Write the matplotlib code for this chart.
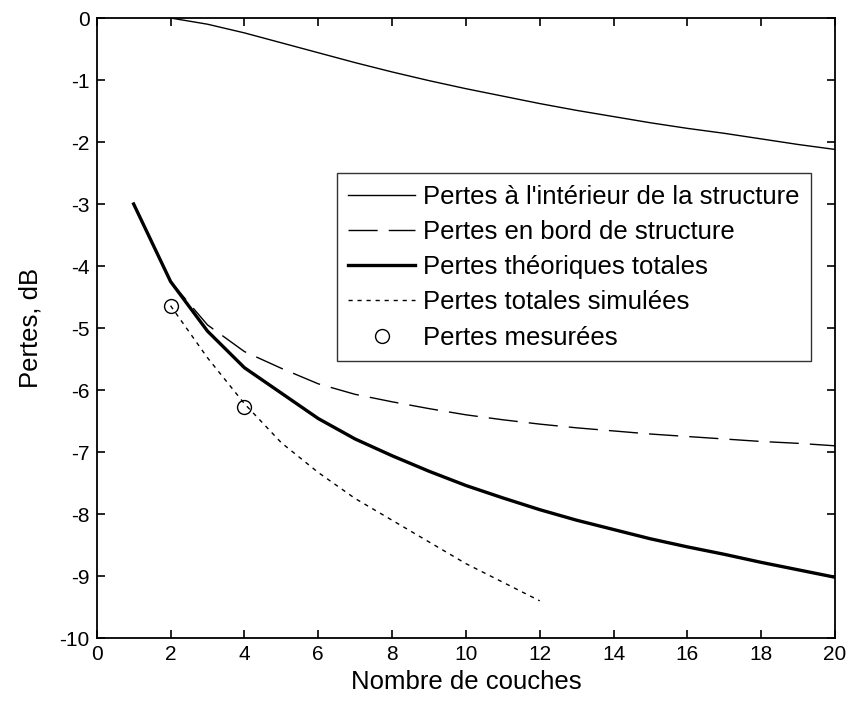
import matplotlib
matplotlib.use("Agg")
import matplotlib.pyplot as plt

plt.rcParams['font.family'] = ['Liberation Sans', 'DejaVu Sans']
plt.rcParams['axes.unicode_minus'] = False

# nombre de couches
x_int = [2, 3, 4, 5, 6, 7, 8, 9, 10, 11, 12, 13, 14, 15, 16, 17, 18, 19, 20]
pertes_int = [0.0, -0.10, -0.24, -0.40, -0.56, -0.72, -0.87, -1.01, -1.14, -1.26,
              -1.38, -1.49, -1.59, -1.69, -1.78, -1.86, -1.95, -2.04, -2.12]

x_all = [1, 2, 3, 4, 5, 6, 7, 8, 9, 10, 11, 12, 13, 14, 15, 16, 17, 18, 19, 20]
pertes_bord = [-3.0, -4.25, -4.95, -5.38, -5.65, -5.90, -6.07, -6.19, -6.30, -6.40,
               -6.48, -6.55, -6.61, -6.66, -6.71, -6.75, -6.79, -6.83, -6.86, -6.90]
pertes_tot = [-3.0, -4.25, -5.05, -5.64, -6.05, -6.46, -6.79, -7.06, -7.31, -7.54,
              -7.74, -7.93, -8.10, -8.25, -8.40, -8.53, -8.65, -8.78, -8.90, -9.02]

x_sim = [2, 3, 4, 5, 6, 7, 8, 9, 10, 11, 12]
pertes_sim = [-4.64, -5.48, -6.22, -6.85, -7.33, -7.75, -8.10, -8.45, -8.80, -9.10, -9.40]

x_mes = [2, 4]
pertes_mes = [-4.64, -6.27]

fig = plt.figure(figsize=(8.5, 7.06), dpi=100)
ax = fig.add_axes([0.1138, 0.0963, 0.8686, 0.8782])

ax.plot(x_int, pertes_int, color='black', lw=1.0,
        label="Pertes à l'intérieur de la structure")
ax.plot(x_all, pertes_bord, color='black', lw=1.0, dashes=(21, 8),
        label='Pertes en bord de structure')
ax.plot(x_all, pertes_tot, color='black', lw=2.4,
        label='Pertes théoriques totales')
ax.plot(x_sim, pertes_sim, color='black', lw=1.0, dashes=(3, 3.5),
        label='Pertes totales simulées')
ax.plot(x_mes, pertes_mes, linestyle='none', marker='o', markersize=10,
        markerfacecolor='none', markeredgecolor='black', markeredgewidth=1.0,
        label='Pertes mesurées')

ax.set_xlim(0, 20)
ax.set_ylim(-10, 0)
ax.set_xticks(range(0, 21, 2))
ax.set_yticks(range(-10, 1, 1))
ax.tick_params(direction='in', length=6, width=1.2, top=True, right=True,
               labelsize=15, pad=5, colors='black')
for sp in ax.spines.values():
    sp.set_linewidth(1.3)

ax.set_xlabel('Nombre de couches', fontsize=18.5, labelpad=4)
ax.set_ylabel('Pertes, dB', fontsize=18.5, labelpad=12)

leg = ax.legend(loc='upper right', bbox_to_anchor=(0.967, 0.75), borderaxespad=0,
                fontsize=18.5, handlelength=2.6, handletextpad=0.3,
                labelspacing=0.44, borderpad=0.45, fancybox=False, frameon=True)
leg.get_frame().set_edgecolor('black')
leg.get_frame().set_linewidth(1.0)

fig.savefig('out.png', dpi=100)
